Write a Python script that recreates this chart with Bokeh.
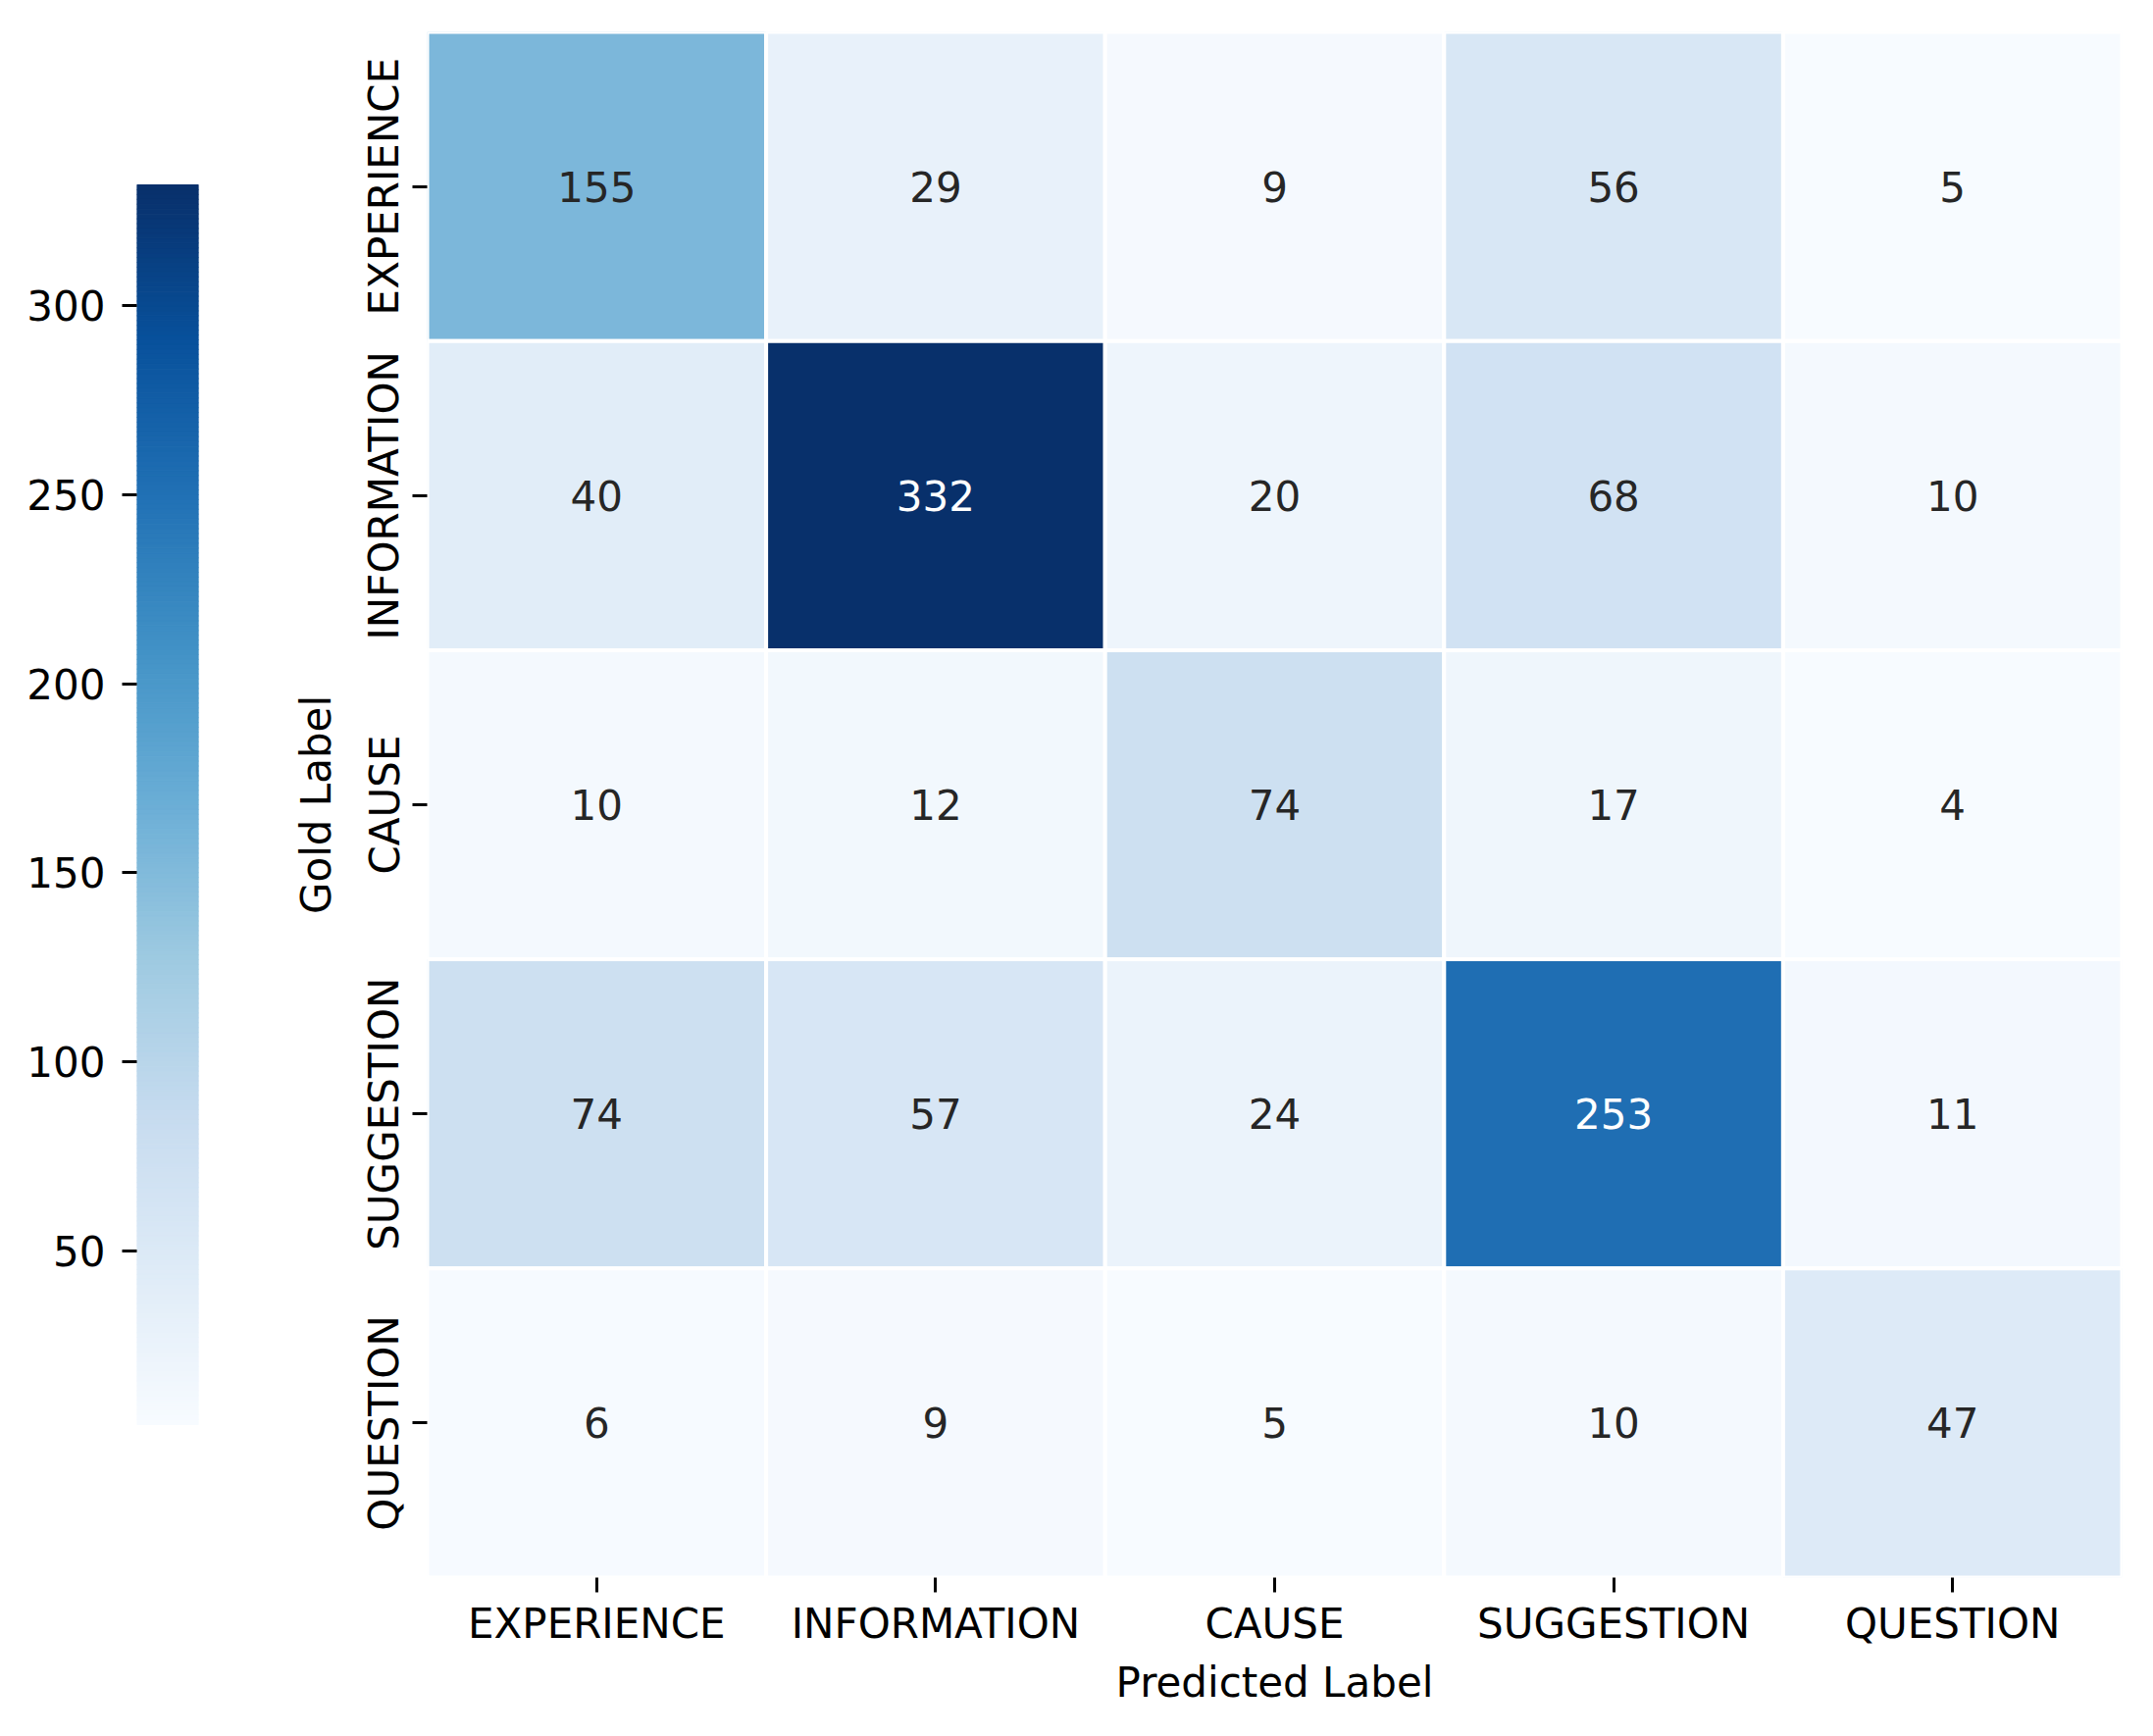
from bokeh.plotting import figure
from bokeh.layouts import row
from bokeh.models import FactorRange, FixedTicker, ColumnDataSource, Range1d
from bokeh.palettes import Blues256
from bokeh.core.properties import value
from bokeh.embed import file_html
from bokeh.resources import INLINE

# ---- data ----
labels = ["EXPERIENCE", "INFORMATION", "CAUSE", "SUGGESTION", "QUESTION"]
row_experience = [155, 29, 9, 56, 5]
row_information = [40, 332, 20, 68, 10]
row_cause = [10, 12, 74, 17, 4]
row_suggestion = [74, 57, 24, 253, 11]
row_question = [6, 9, 5, 10, 47]
matrix = [row_experience, row_information, row_cause, row_suggestion, row_question]
cbar_ticks = [50, 100, 150, 200, 250, 300]

FONT = "DejaVu Sans"
FS = "42px"

vmin = min(min(r) for r in matrix)
vmax = max(max(r) for r in matrix)
palette = list(reversed(Blues256))  # light -> dark


def color_for(v):
    idx = int((v - vmin) / (vmax - vmin) * 256)
    idx = max(0, min(255, idx))
    return palette[idx]


def text_color(hexc):
    r, g, b = (int(hexc[i:i + 2], 16) / 255 for i in (1, 3, 5))

    def lin(c):
        return c / 12.92 if c <= 0.03928 else ((c + 0.055) / 1.055) ** 2.4
    lum = 0.2126 * lin(r) + 0.7152 * lin(g) + 0.0722 * lin(b)
    return "#262626" if lum > 0.408 else "#ffffff"


xs, ys, vals, cols, tcols, txt = [], [], [], [], [], []
for i, gold in enumerate(labels):
    for j, pred in enumerate(labels):
        v = matrix[i][j]
        c = color_for(v)
        xs.append(pred)
        ys.append(gold)
        vals.append(v)
        cols.append(c)
        tcols.append(text_color(c))
        txt.append(str(v))

src = ColumnDataSource(dict(x=xs, y=ys, v=vals, c=cols, tc=tcols, t=txt))

# layout constants (pixels)
TOP, FRAME_H, BOTTOM = 32, 1576, 140
CB_TOP_PX, CB_H_PX = 156, 1264   # colorbar offset inside frame, bar height

# ---- heatmap figure ----
p = figure(
    x_range=FactorRange(factors=labels),
    y_range=FactorRange(factors=list(reversed(labels))),
    frame_width=1728, frame_height=FRAME_H,
    min_border_left=195, min_border_right=20, min_border_top=TOP, min_border_bottom=BOTTOM,
    output_backend="svg", toolbar_location=None,
)
p.rect(x="x", y="y", width=1, height=1, source=src, fill_color="c",
       line_color="white", line_width=4)
p.text(x="x", y="y", text="t", source=src, text_color="tc",
       text_align="center", text_baseline="middle",
       text_font=value(FONT), text_font_size=FS)

p.grid.visible = False
p.outline_line_color = None
p.background_fill_color = "white"
for ax in (p.xaxis[0], p.yaxis[0]):
    ax.axis_line_color = None
    ax.major_tick_in = 0
    ax.major_tick_out = 15
    ax.major_tick_line_width = 3
    ax.major_tick_line_color = "black"
    ax.major_label_text_font = FONT
    ax.major_label_text_font_size = FS
    ax.major_label_text_color = "black"
    ax.axis_label_text_font = FONT
    ax.axis_label_text_font_size = FS
    ax.axis_label_text_font_style = "normal"
    ax.axis_label_text_color = "black"
p.xaxis.axis_label = "Predicted Label"
p.yaxis.axis_label = "Gold Label"
p.xaxis.major_label_standoff = 7
p.xaxis.axis_label_standoff = 8
p.yaxis.major_label_orientation = "vertical"
p.yaxis.major_label_standoff = 4
p.yaxis.axis_label_standoff = 18

# ---- colorbar figure (same frame height; bar occupies a sub-band) ----
ppu = CB_H_PX / (vmax - vmin)
cb_hi = vmax + CB_TOP_PX / ppu
cb_lo = vmin - (FRAME_H - CB_TOP_PX - CB_H_PX) / ppu
n = len(palette)
step = (vmax - vmin) / n
bottoms = [vmin + k * step for k in range(n)]
tops = [b + step for b in bottoms]
cb = figure(
    x_range=Range1d(0, 1), y_range=Range1d(cb_lo, cb_hi),
    frame_width=63, frame_height=FRAME_H,
    min_border_left=139, min_border_right=38, min_border_top=TOP, min_border_bottom=BOTTOM,
    output_backend="svg", toolbar_location=None,
)
cb.quad(left=0, right=1, bottom=bottoms, top=tops, fill_color=palette,
        line_color=palette, line_width=1)
cb.xaxis.visible = False
cb.grid.visible = False
cb.outline_line_color = None
cb.yaxis.ticker = FixedTicker(ticks=cbar_ticks)
cb.yaxis.minor_tick_line_color = None
cb.yaxis.axis_line_color = None
cb.yaxis.major_tick_in = 0
cb.yaxis.major_tick_out = 15
cb.yaxis.major_tick_line_width = 3
cb.yaxis.major_label_standoff = 17
cb.yaxis.major_label_text_font = FONT
cb.yaxis.major_label_text_font_size = FS
cb.yaxis.major_label_text_color = "black"

layout = row(cb, p)
open("out.html", "w").write(file_html(layout, INLINE))
